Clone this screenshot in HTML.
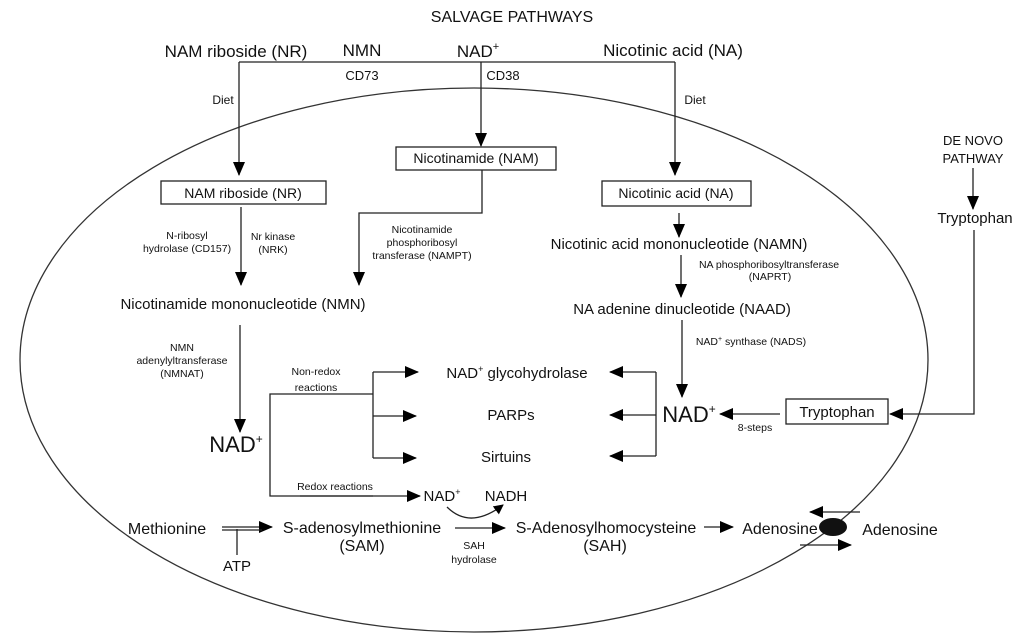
<!DOCTYPE html>
<html><head><meta charset="utf-8"><style>
html,body{margin:0;padding:0;background:#fff;}
svg{display:block;font-family:"Liberation Sans",sans-serif;}
text{fill:#111;}
</style></head><body>
<svg width="1024" height="639" viewBox="0 0 1024 639">
<defs>
<marker id="a" markerWidth="10" markerHeight="10" refX="9" refY="5" orient="auto" markerUnits="userSpaceOnUse"><path d="M0,0 L10,5 L0,10 z" fill="#000"/></marker>
<marker id="b" markerWidth="14" markerHeight="12" refX="13" refY="6" orient="auto" markerUnits="userSpaceOnUse"><path d="M0,0 L14,6 L0,12 z" fill="#000"/></marker>
</defs>
<g fill="none" stroke="#333" stroke-width="1.3">
<ellipse cx="474" cy="360" rx="454" ry="272"/>
</g>
<g fill="none" stroke="#222" stroke-width="1.3">
<polyline points="239,62 675,62"/>
<line x1="239" y1="62" x2="239" y2="175" marker-end="url(#b)"/>
<line x1="481" y1="62" x2="481" y2="146" marker-end="url(#b)"/>
<line x1="675" y1="62" x2="675" y2="175" marker-end="url(#b)"/>
<rect x="161" y="181" width="165" height="23"/>
<rect x="396" y="147" width="160" height="23"/>
<rect x="602" y="181" width="149" height="25"/>
<polyline points="482,170 482,213 359,213 359,285" marker-end="url(#b)"/>
<line x1="241" y1="207" x2="241" y2="285" marker-end="url(#b)"/>
<line x1="679" y1="213" x2="679" y2="237" marker-end="url(#b)"/>
<line x1="681" y1="255" x2="681" y2="297" marker-end="url(#b)"/>
<line x1="682" y1="320" x2="682" y2="397" marker-end="url(#b)"/>
<line x1="240" y1="325" x2="240" y2="432" marker-end="url(#b)"/>
<polyline points="373,496 270,496 270,394 373,394"/>
<line x1="373" y1="372" x2="373" y2="458"/>
<line x1="373" y1="372" x2="418" y2="372" marker-end="url(#b)"/>
<line x1="373" y1="416" x2="416" y2="416" marker-end="url(#b)"/>
<line x1="373" y1="458" x2="416" y2="458" marker-end="url(#b)"/>
<line x1="300" y1="496" x2="420" y2="496" marker-end="url(#b)"/>
<polyline points="656,372 656,456"/>
<line x1="656" y1="372" x2="610" y2="372" marker-end="url(#b)"/>
<line x1="656" y1="415" x2="610" y2="415" marker-end="url(#b)"/>
<line x1="656" y1="456" x2="610" y2="456" marker-end="url(#b)"/>
<line x1="780" y1="414" x2="720" y2="414" marker-end="url(#b)"/>
<rect x="786" y="399" width="102" height="25"/>
<polyline points="974,230 974,414 890,414" marker-end="url(#b)"/>
<line x1="973" y1="168" x2="973" y2="209" marker-end="url(#b)"/>
<path d="M447,507 Q470,530 503,505" marker-end="url(#a)"/>
<line x1="222" y1="527" x2="272" y2="527" marker-end="url(#b)"/>
<line x1="222" y1="530" x2="262" y2="530"/>
<line x1="237" y1="529" x2="237" y2="555"/>
<line x1="455" y1="528" x2="505" y2="528" marker-end="url(#b)"/>
<line x1="704" y1="527" x2="733" y2="527" marker-end="url(#b)"/>
<line x1="860" y1="512" x2="810" y2="512" marker-end="url(#b)"/>
<line x1="800" y1="545" x2="851" y2="545" marker-end="url(#b)"/>
</g>
<ellipse cx="833" cy="527" rx="14" ry="9" fill="#111"/>
<g font-size="16" text-anchor="middle">
<text x="512" y="22">SALVAGE PATHWAYS</text>
<text x="236" y="57" font-size="17">NAM riboside (NR)</text>
<text x="362" y="56" font-size="17">NMN</text>
<text x="478" y="57" font-size="17">NAD<tspan font-size="11" dy="-7">+</tspan></text>
<text x="673" y="56" font-size="17">Nicotinic acid (NA)</text>
<text x="362" y="80" font-size="13">CD73</text>
<text x="503" y="80" font-size="13">CD38</text>
<text x="223" y="104" font-size="12">Diet</text>
<text x="695" y="104" font-size="12">Diet</text>
<text x="243" y="198" font-size="14">NAM riboside (NR)</text>
<text x="476" y="163" font-size="14">Nicotinamide (NAM)</text>
<text x="676" y="198" font-size="14">Nicotinic acid (NA)</text>
<g font-size="10.5">
<text x="187" y="239">N-ribosyl</text><text x="187" y="252">hydrolase (CD157)</text>
<text x="273" y="240">Nr kinase</text><text x="273" y="253">(NRK)</text>
<text x="422" y="233">Nicotinamide</text><text x="422" y="246">phosphoribosyl</text><text x="422" y="259">transferase (NAMPT)</text>
<text x="769" y="268">NA phosphoribosyltransferase</text><text x="770" y="280">(NAPRT)</text>
<text x="182" y="351">NMN</text><text x="182" y="364">adenylyltransferase</text><text x="182" y="377">(NMNAT)</text>
<text x="751" y="345">NAD<tspan font-size="7" dy="-4">+</tspan><tspan dy="4"> synthase (NADS)</tspan></text>
<text x="316" y="375">Non-redox</text><text x="316" y="391">reactions</text>
<text x="335" y="490">Redox reactions</text>
<text x="755" y="431">8-steps</text>
<text x="474" y="549">SAH</text><text x="474" y="563">hydrolase</text>
</g>
<text x="243" y="309" font-size="15">Nicotinamide mononucleotide (NMN)</text>
<text x="679" y="249" font-size="15">Nicotinic acid mononucleotide (NAMN)</text>
<text x="682" y="314" font-size="15">NA adenine dinucleotide (NAAD)</text>
<text x="973" y="145" font-size="13">DE NOVO</text>
<text x="973" y="163" font-size="13">PATHWAY</text>
<text x="975" y="223" font-size="15">Tryptophan</text>
<text x="837" y="417" font-size="15">Tryptophan</text>
<text x="517" y="378" font-size="15">NAD<tspan font-size="9" dy="-6">+</tspan><tspan dy="6"> glycohydrolase</tspan></text>
<text x="511" y="420" font-size="15">PARPs</text>
<text x="506" y="462" font-size="15">Sirtuins</text>
<text x="442" y="501" font-size="15">NAD<tspan font-size="9" dy="-6">+</tspan></text>
<text x="506" y="501" font-size="15">NADH</text>
<text x="236" y="452" font-size="22">NAD<tspan font-size="12" dy="-9">+</tspan></text>
<text x="689" y="422" font-size="22">NAD<tspan font-size="12" dy="-9">+</tspan></text>
<text x="167" y="534" font-size="16">Methionine</text>
<text x="237" y="571" font-size="15">ATP</text>
<text x="362" y="533" font-size="16">S-adenosylmethionine</text>
<text x="362" y="551" font-size="16">(SAM)</text>
<text x="606" y="533" font-size="16">S-Adenosylhomocysteine</text>
<text x="605" y="551" font-size="16">(SAH)</text>
<text x="780" y="534" font-size="16">Adenosine</text>
<text x="900" y="535" font-size="16">Adenosine</text>
</g>
</svg>
</body></html>
